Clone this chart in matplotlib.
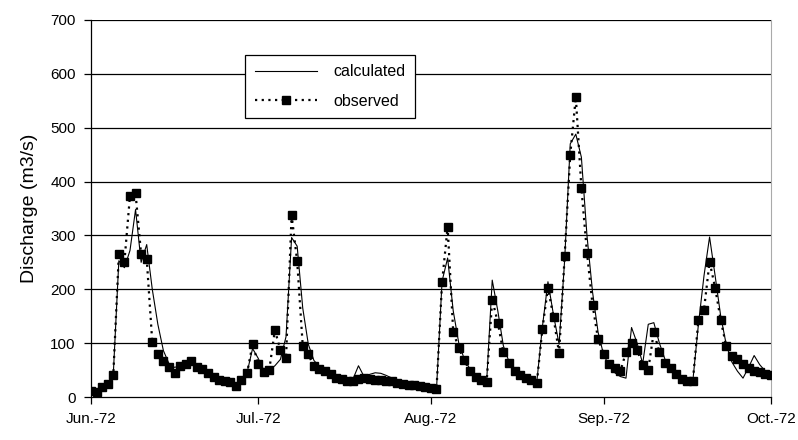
import numpy as np
import matplotlib
matplotlib.use("Agg")
import matplotlib.pyplot as plt

plt.rcParams['font.family'] = ['Liberation Sans', 'DejaVu Sans']

# daily values, 1 Jun 1972 .. 1 Oct 1972
observed = [
    12, 10, 18, 25, 40, 265, 251, 374, 378, 265,
    257, 102, 79, 66, 56, 44, 58, 61, 67, 55,
    52, 45, 38, 32, 29, 28, 20, 32, 44, 98,
    62, 46, 51, 124, 87, 72, 338, 252, 95, 79,
    57, 52, 49, 42, 35, 33, 29, 29, 33, 36,
    34, 31, 31, 29, 29, 26, 24, 23, 22, 20,
    18, 16, 14, 213, 316, 121, 91, 68, 48, 38,
    31, 28, 181, 138, 83, 63, 49, 41, 35, 31,
    26, 126, 203, 148, 81, 262, 450, 557, 388, 268,
    171, 107, 80, 62, 54, 48, 83, 101, 87, 60,
    51, 121, 83, 64, 53, 42, 34, 29, 30, 143,
    162, 251, 203, 143, 94, 77, 70, 62, 54, 49,
    46, 43, 41,
]
calculated = [
    12, 12, 18, 25, 41, 253, 240, 272, 348, 250,
    283, 200, 135, 86, 62, 55, 58, 60, 66, 56,
    50, 45, 38, 33, 30, 28, 24, 32, 45, 90,
    72, 50, 50, 58, 70, 112, 296, 280, 165, 98,
    68, 56, 50, 44, 38, 32, 30, 33, 58, 38,
    42, 45, 44, 40, 35, 30, 27, 24, 22, 20,
    17, 15, 14, 215, 258, 160, 100, 70, 52, 40,
    33, 29, 217, 160, 95, 66, 52, 42, 36, 32,
    28, 130, 214, 152, 98, 255, 470, 488, 445, 300,
    195, 120, 78, 58, 45, 38, 35, 129, 100, 62,
    135, 138, 100, 70, 55, 42, 35, 30, 30, 135,
    225, 297, 225, 150, 97, 65, 48, 35, 55, 77,
    60, 48, 40,
]
month_days = [0, 30, 61, 92, 122]
month_labels = ['Jun.-72', 'Jul.-72', 'Aug.-72', 'Sep.-72', 'Oct.-72']
y_ticks = [0, 100, 200, 300, 400, 500, 600, 700]

days = np.arange(len(observed))

fig = plt.figure(figsize=(7.98, 4.40), dpi=100)
ax = fig.add_axes([0.114, 0.0977, 0.852, 0.857])

for v in y_ticks[1:]:
    ax.axhline(v, color='black', lw=0.9, zorder=1)

ax.plot(days, calculated, color='black', lw=0.8, label='calculated', zorder=3)
ax.plot(days, observed, color='black', lw=1.6, ls=(0, (1, 2)), marker='s',
        markersize=5.2, label='observed', zorder=4)

ax.set_xlim(0, 122)
ax.set_ylim(0, 700)
ax.set_xticks(month_days)
ax.set_xticklabels(month_labels)
ax.set_yticks(y_ticks)
ax.tick_params(direction='out', length=5, width=0.9, labelsize=11, pad=6)
ax.set_ylabel('Discharge (m3/s)', fontsize=14, labelpad=9)

ax.spines['top'].set_visible(False)
ax.spines['right'].set_color('#aaaaaa')
ax.spines['left'].set_linewidth(0.9)
ax.spines['bottom'].set_linewidth(0.9)

leg = ax.legend(loc='upper left', bbox_to_anchor=(0.215, 0.929), frameon=True,
                fancybox=False, edgecolor='black', framealpha=1, numpoints=1,
                handlelength=3.9, fontsize=11.5, borderpad=0.6, labelspacing=0.9,
                handletextpad=1.0)
leg.get_frame().set_linewidth(0.9)

fig.savefig('out.png', dpi=100)
